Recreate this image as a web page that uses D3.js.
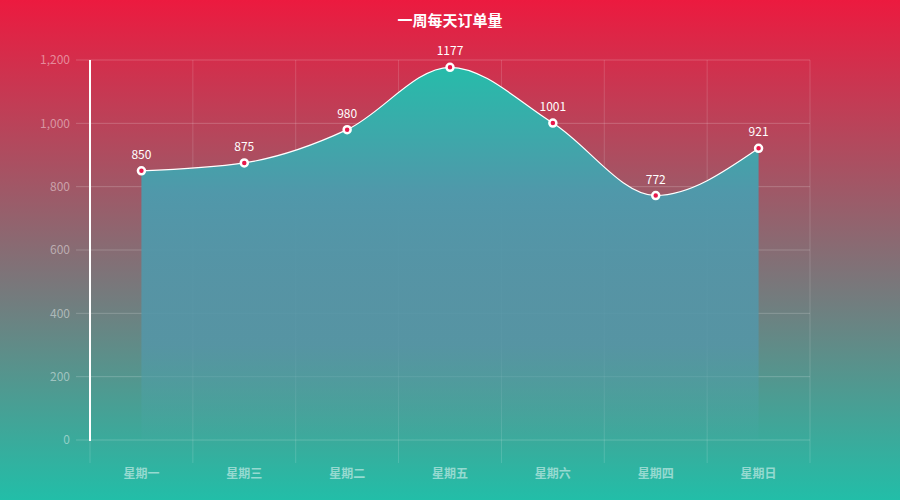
<!DOCTYPE html>
<html>
  <head>
    <meta charset="utf-8">
    <script src="https://d3js.org/d3.v7.min.js"></script>
    <style>
      body { margin: 0; }
      svg text { font-family: "Noto Sans CJK SC", "Open Sans", sans-serif; }
    </style>
  </head>
<body>
  <script type="text/javascript">
    // chart data
    var days = ["星期一", "星期三", "星期二", "星期五", "星期六", "星期四", "星期日"];
    var orders = [850, 875, 980, 1177, 1001, 772, 921];
    var yTicks = [0, 200, 400, 600, 800, 1000, 1200];
    var title = "一周每天订单量";

    var width = 900,
        height = 500,
        gLeft = 90, gRight = 810, gTop = 60, gBottom = 440;

    var svg = d3.select("body").append("svg")
        .attr("width", width)
        .attr("height", height);

    var defs = svg.append("defs");

    // page background, red to teal
    var bg = defs.append("linearGradient").attr("id", "bg")
        .attr("x1", 0).attr("y1", 0).attr("x2", 0).attr("y2", 1);
    bg.append("stop").attr("offset", "0%").attr("stop-color", "#ec1a3f");
    bg.append("stop").attr("offset", "100%").attr("stop-color", "#22bea8");

    // area fill
    var ag = defs.append("linearGradient").attr("id", "areaFill")
        .attr("gradientUnits", "userSpaceOnUse")
        .attr("x1", 0).attr("y1", gTop).attr("x2", 0).attr("y2", gBottom);
    ag.append("stop").attr("offset", "0%").attr("stop-color", "rgb(36,190,170)");
    ag.append("stop").attr("offset", "35%").attr("stop-color", "rgb(80,152,170)");
    ag.append("stop").attr("offset", "75%").attr("stop-color", "rgb(84,150,168)").attr("stop-opacity", 0.85);
    ag.append("stop").attr("offset", "100%").attr("stop-color", "rgb(70,170,165)").attr("stop-opacity", 0.15);

    svg.append("rect")
        .attr("width", width).attr("height", height)
        .attr("fill", "url(#bg)");

    var x = d3.scaleBand().domain(days).range([gLeft, gRight]);
    var y = d3.scaleLinear().domain([0, 1200]).range([gBottom, gTop]);
    var cx = function (d) { return x(d) + x.bandwidth() / 2; };

    var grid = svg.append("g");

    // horizontal grid lines (with small tick stubs on the left)
    grid.selectAll("line.h").data(yTicks).enter().append("line")
        .attr("x1", gLeft - 14).attr("x2", gRight)
        .attr("y1", function (d) { return y(d); })
        .attr("y2", function (d) { return y(d); })
        .attr("stroke", "rgba(255,255,255,0.2)")
        .attr("stroke-width", 1);

    // vertical grid lines at band edges, running down past the zero line
    var edges = days.map(function (d) { return x(d); }).concat([gRight]);
    grid.selectAll("line.v").data(edges).enter().append("line")
        .attr("x1", function (d) { return d; })
        .attr("x2", function (d) { return d; })
        .attr("y1", gTop).attr("y2", gBottom + 23)
        .attr("stroke", "rgba(255,255,255,0.15)")
        .attr("stroke-width", 1);

    // y tick labels
    svg.selectAll("text.ylab").data(yTicks).enter().append("text")
        .attr("x", gLeft - 20)
        .attr("y", function (d) { return y(d); })
        .attr("dy", "0.35em")
        .attr("text-anchor", "end")
        .attr("fill", "rgba(255,255,255,0.45)")
        .style("font-size", "12px")
        .text(d3.format(","));

    // x labels
    svg.selectAll("text.xlab").data(days).enter().append("text")
        .attr("x", cx)
        .attr("y", 474)
        .attr("dy", "0.35em")
        .attr("text-anchor", "middle")
        .attr("fill", "rgba(255,255,255,0.5)")
        .style("font-size", "12px")
        .style("font-weight", "bold")
        .text(function (d) { return d; });

    var pts = days.map(function (d, i) { return [cx(d), y(orders[i])]; });

    var area = d3.area()
        .x(function (p) { return p[0]; })
        .y0(gBottom)
        .y1(function (p) { return p[1]; })
        .curve(d3.curveMonotoneX);

    var line = d3.line()
        .x(function (p) { return p[0]; })
        .y(function (p) { return p[1]; })
        .curve(d3.curveMonotoneX);

    svg.append("path").datum(pts)
        .attr("d", area)
        .attr("fill", "url(#areaFill)");

    svg.append("path").datum(pts)
        .attr("d", line)
        .attr("fill", "none")
        .attr("stroke", "#fff")
        .attr("stroke-width", 1.2);

    // y axis line
    svg.append("line")
        .attr("x1", gLeft).attr("x2", gLeft)
        .attr("y1", gTop).attr("y2", gBottom + 1)
        .attr("stroke", "#fff")
        .attr("stroke-width", 2);

    svg.selectAll("circle.pt").data(pts).enter().append("circle")
        .attr("cx", function (p) { return p[0]; })
        .attr("cy", function (p) { return p[1]; })
        .attr("r", 3.5)
        .attr("fill", "#e8174a")
        .attr("stroke", "#fff")
        .attr("stroke-width", 2.5);

    svg.selectAll("text.val").data(orders).enter().append("text")
        .attr("x", function (d, i) { return pts[i][0]; })
        .attr("y", function (d, i) { return pts[i][1] - 12; })
        .attr("text-anchor", "middle")
        .attr("fill", "#fff")
        .style("font-size", "12px")
        .text(function (d) { return d; });

    svg.append("text")
        .attr("x", width / 2)
        .attr("y", 26)
        .attr("text-anchor", "middle")
        .attr("fill", "#fff")
        .style("font-size", "15px")
        .style("font-weight", "bold")
        .text(title);
  </script>
</body>
</html>
